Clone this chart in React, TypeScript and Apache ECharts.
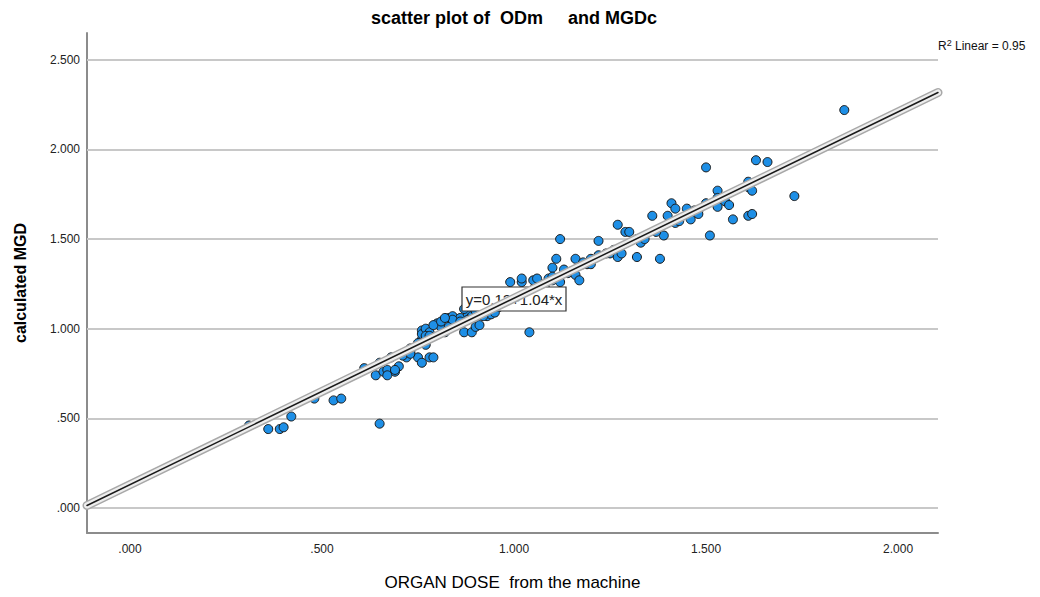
import React, { useEffect, useRef } from "react";
import * as echarts from "echarts";

// Observed values: ORGAN DOSE from the machine (x) vs calculated MGD (y)
const organDose = [
  0.31, 0.36, 0.39, 0.40, 0.42, 0.48, 0.53, 0.55, 0.65, 0.61,
  0.64, 0.65, 0.66, 0.67, 0.68, 0.69, 0.70, 0.72, 0.73, 0.75,
  0.76, 0.78, 0.79, 0.77, 0.76, 0.76, 0.76, 0.77, 0.78, 0.78,
  0.80, 0.81, 0.82, 0.83, 0.83, 0.84, 0.85, 0.86, 0.87, 0.88,
  0.89, 0.90, 0.90, 0.91, 0.93, 0.94, 0.89, 0.92, 0.96, 0.98,
  0.99, 1.01, 1.04, 0.99, 1.02, 1.02, 1.05, 1.06, 1.09, 1.10,
  1.11, 1.10, 1.12, 1.05, 1.08, 1.12, 1.14, 1.15, 1.16, 1.16,
  1.17, 1.18, 1.19, 1.20, 1.22, 1.24, 1.25, 1.26, 1.27, 1.27,
  1.28, 1.27, 1.29, 1.30, 1.32, 1.32, 1.38, 1.39, 1.36, 1.40,
  1.42, 1.41, 1.42, 1.45, 1.46, 1.47, 1.48, 1.50, 1.50, 1.51,
  1.53, 1.53, 1.53, 1.55, 1.56, 1.57, 1.61, 1.62, 1.61, 1.61,
  1.62, 1.63, 1.66, 1.73, 1.86, 0.79, 0.81, 0.84, 0.86, 0.88,
  0.92, 0.95, 0.82, 0.77, 0.75, 0.71, 0.73, 1.13, 1.18, 1.20,
  1.22, 1.33, 1.34, 1.37, 1.43, 1.48, 0.69, 0.67, 0.73, 0.78,
  0.90, 0.87, 0.89, 0.97, 1.02, 1.04, 1.06, 1.08, 1.10
];
const calculatedMgd = [
  0.46, 0.44, 0.44, 0.45, 0.51, 0.61, 0.60, 0.61, 0.47, 0.78,
  0.74, 0.81, 0.76, 0.77, 0.84, 0.76, 0.79, 0.84, 0.89, 0.84,
  0.81, 0.84, 0.84, 0.91, 0.94, 0.99, 0.97, 1.00, 0.98, 0.95,
  1.03, 1.01, 0.98, 1.01, 1.06, 1.07, 1.02, 1.06, 0.98, 1.08,
  0.98, 1.01, 1.07, 1.02, 1.07, 1.08, 1.07, 1.09, 1.12, 1.13,
  1.16, 1.18, 0.98, 1.26, 1.26, 1.28, 1.27, 1.28, 1.28, 1.27,
  1.39, 1.34, 1.50, 1.22, 1.23, 1.26, 1.31, 1.32, 1.39, 1.30,
  1.27, 1.36, 1.36, 1.36, 1.49, 1.42, 1.42, 1.44, 1.42, 1.40,
  1.42, 1.58, 1.54, 1.54, 1.50, 1.40, 1.39, 1.52, 1.63, 1.63,
  1.59, 1.70, 1.67, 1.67, 1.61, 1.66, 1.66, 1.70, 1.90, 1.52,
  1.77, 1.73, 1.68, 1.71, 1.69, 1.61, 1.63, 1.64, 1.82, 1.79,
  1.77, 1.94, 1.93, 1.74, 2.22, 1.02, 1.04, 1.05, 1.04, 1.05,
  1.07, 1.09, 1.06, 0.96, 0.92, 0.85, 0.87, 1.33, 1.37, 1.39,
  1.41, 1.48, 1.50, 1.54, 1.60, 1.64, 0.77, 0.74, 0.86, 0.96,
  1.10, 1.11, 1.14, 1.15, 1.17, 1.20, 1.22, 1.25, 1.29
];

const xTicks = [0, 0.5, 1.0, 1.5, 2.0];
const yTicks = [0, 0.5, 1.0, 1.5, 2.0, 2.5];
const xRange = [-0.112, 2.104];
const yRange = [-0.14, 2.65];
const fitIntercept = 0.13;
const fitSlope = 1.04;
const rSquared = 0.95;

const fmt = (v: number) => v.toFixed(3).replace(/^0\./, ".");

export default function App() {
  const ref = useRef<HTMLDivElement>(null);
  useEffect(() => {
    if (!ref.current) return;
    const chart = echarts.init(ref.current, null, { renderer: "svg" });
    const points = organDose.map((x, i) => [x, calculatedMgd[i]]);
    const fit = xRange.map((x) => [x, fitIntercept + fitSlope * x]);
    const font = "Liberation Sans, Arial, sans-serif";
    const fitLine = (color: string, width: number, z: number, opacity = 1) => ({
      type: "line",
      data: fit,
      symbol: "none",
      clip: false,
      silent: true,
      z,
      lineStyle: { color, width, cap: "round", opacity },
    });
    chart.setOption({
      animation: false,
      textStyle: { fontFamily: font },
      grid: { left: 87, right: 102, top: 33, bottom: 64, containLabel: false },
      xAxis: {
        type: "value",
        min: xRange[0],
        max: xRange[1],
        splitLine: { show: false },
        axisTick: { show: false },
        axisLine: { show: true, onZero: false, lineStyle: { color: "#8c8c8c", width: 2 } },
        axisLabel: {
          customValues: xTicks,
          formatter: fmt,
          color: "#222",
          fontSize: 12,
          margin: 10,
          fontFamily: font,
        },
        name: "ORGAN DOSE  from the machine",
        nameLocation: "middle",
        nameGap: 41,
        nameTextStyle: { fontSize: 17, color: "#000", fontFamily: font },
      },
      yAxis: {
        type: "value",
        min: yRange[0],
        max: yRange[1],
        splitLine: { show: false },
        axisTick: { show: false },
        axisLine: { show: true, onZero: false, lineStyle: { color: "#8c8c8c", width: 2 } },
        axisLabel: {
          customValues: yTicks,
          formatter: fmt,
          color: "#222",
          fontSize: 12,
          margin: 7,
          fontFamily: font,
        },
        name: "calculated MGD",
        nameLocation: "middle",
        nameGap: 59,
        nameTextStyle: {
          fontSize: 16,
          fontWeight: "bold",
          color: "#000",
          fontFamily: font,
        },
      },
      series: [
        {
          type: "scatter",
          data: points,
          symbolSize: 9,
          z: 2,
          itemStyle: { color: "#1e8fe6", borderColor: "#1a1a1a", borderWidth: 1, opacity: 1 },
          markLine: {
            silent: true,
            symbol: "none",
            label: { show: false },
            lineStyle: { color: "#c8c8c8", width: 2, type: "solid" },
            data: yTicks.map((v) => ({ yAxis: v })),
            z: 1,
          },
        },
        fitLine("#a8a8a8", 9, 4),
        fitLine("#ffffff", 6, 5, 0.8),
        fitLine("#1a1a1a", 1.5, 6),
      ],
      graphic: [
        {
          type: "text",
          x: 514,
          y: 18,
          style: {
            text: "scatter plot of  ODm     and MGDc",
            textAlign: "center",
            textVerticalAlign: "middle",
            font: `bold 18px ${font}`,
            fill: "#000",
          },
        },
        {
          type: "text",
          x: 938,
          y: 46,
          style: {
            text: `{n|R}{s|2}{n| Linear = ${rSquared.toFixed(2)}}`,
            textVerticalAlign: "middle",
            rich: {
              n: { fontSize: 12, fontFamily: font, fill: "#111" },
              s: { fontSize: 9, fontFamily: font, fill: "#111", verticalAlign: "top", padding: [0, 0, 6, 0] },
            },
          },
        },
        {
          type: "rect",
          z: 3,
          shape: { x: 462, y: 287, width: 104, height: 24 },
          style: { fill: "#fff", stroke: "#333", lineWidth: 1.2 },
        },
        {
          type: "text",
          z: 3,
          x: 514,
          y: 299,
          style: {
            text: `y=${fitIntercept.toFixed(2)}+${fitSlope.toFixed(2)}*x`,
            textAlign: "center",
            textVerticalAlign: "middle",
            font: `15px ${font}`,
            fill: "#222",
          },
        },
      ],
    });
    return () => chart.dispose();
  }, []);
  return (
    <div
      ref={ref}
      style={{ position: "fixed", left: 0, top: 0, width: 1040, height: 597, background: "#fff" }}
    />
  );
}
